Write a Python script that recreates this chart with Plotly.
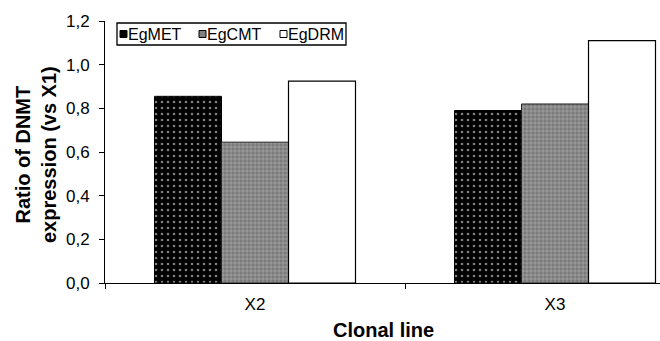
import plotly.graph_objects as go

categories = ["X2", "X3"]
series_names = ["EgMET", "EgCMT", "EgDRM"]
egmet = [0.855, 0.79]
egcmt = [0.645, 0.82]
egdrm = [0.925, 1.11]
y_ticks = [0.0, 0.2, 0.4, 0.6, 0.8, 1.0, 1.2]

FONT = "Arial, Liberation Sans, sans-serif"
W, H = 660, 341
L, R, T, B = 105, 0, 21, 58
PW, PH = W - L - R, H - T - B


def px(x):
    return (x - L) / PW


def py(y):
    return (H - B - y) / PH


met_style = dict(color="black", line=dict(color="black", width=1),
                 pattern=dict(shape=".", fgcolor="white", bgcolor="black",
                              size=6, solidity=0.15, fillmode="overlay"))
cmt_style = dict(color="#7a7a7a", line=dict(color="#222222", width=1),
                 pattern=dict(shape="+", fgcolor="#dddddd", bgcolor="#7a7a7a",
                              size=4, solidity=0.3, fillmode="overlay"))
drm_style = dict(color="white", line=dict(color="black", width=1.2))

fig = go.Figure()
fig.add_trace(go.Bar(name=series_names[0], x=categories, y=egmet, marker=met_style))
fig.add_trace(go.Bar(name=series_names[1], x=categories, y=egcmt, marker=cmt_style))
fig.add_trace(go.Bar(name=series_names[2], x=categories, y=egdrm, marker=drm_style))

# legend drawn as box + swatches + text
shapes = [dict(type="rect", xref="paper", yref="paper",
               x0=px(117), x1=px(346), y0=py(45), y1=py(23),
               line=dict(color="black", width=1.3), fillcolor="white", layer="above")]
annotations = []
sw_x = [120, 199, 280]
sw_fill = ["black", "#808080", "white"]
for name, sx, fc in zip(series_names, sw_x, sw_fill):
    shapes.append(dict(type="rect", xref="paper", yref="paper",
                       x0=px(sx), x1=px(sx + 7), y0=py(37.5), y1=py(30.5),
                       line=dict(color="black", width=1), fillcolor=fc, layer="above"))
    annotations.append(dict(text=name, xref="paper", yref="paper",
                            x=px(sx + 6), y=py(34.5), xanchor="left", yanchor="middle",
                            showarrow=False, font=dict(size=16, family=FONT, color="black")))

annotations.append(dict(text="<b>Clonal line</b>", xref="paper", yref="paper",
                        x=px(383), y=py(330), xanchor="center", yanchor="middle",
                        showarrow=False, font=dict(size=20, family=FONT, color="black")))
annotations.append(dict(text="<b>Ratio of DNMT<br>expression (vs X1)</b>", xref="paper", yref="paper",
                        x=px(36), y=py(155), xanchor="center", yanchor="middle",
                        textangle=-90, showarrow=False,
                        font=dict(size=20, family=FONT, color="black")))

fig.update_layout(
    width=W, height=H,
    margin=dict(l=L, r=R, t=T, b=B),
    paper_bgcolor="white", plot_bgcolor="white",
    barmode="group", bargap=0.33, bargroupgap=0,
    separators=",.",
    font=dict(family=FONT, color="black", size=17),
    showlegend=False,
    shapes=shapes,
    annotations=annotations,
    xaxis=dict(
        range=[-0.5, 1.35], showline=True, linecolor="black", linewidth=1,
        ticks="outside", ticklen=5, tickcolor="black", tickson="boundaries",
        showgrid=False, tickfont=dict(size=17, family=FONT),
        ticklabelstandoff=6, automargin=False,
    ),
    yaxis=dict(
        range=[0, 1.2], tickvals=y_ticks, tickformat=".1f",
        showline=True, linecolor="black", linewidth=1,
        ticks="outside", ticklen=5, tickcolor="black",
        showgrid=False, zeroline=False, tickfont=dict(size=17, family=FONT),
        ticklabelstandoff=6, automargin=False,
    ),
)

fig.write_html("out.html", config={"displayModeBar": False},
               post_script="document.body.style.margin='0px';")
